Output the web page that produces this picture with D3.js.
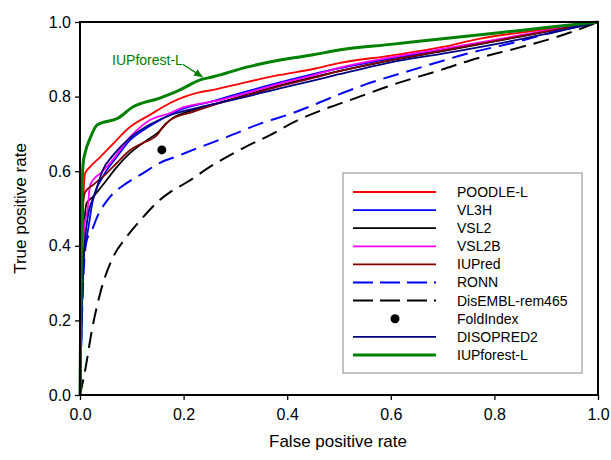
<!DOCTYPE html>
<html>
<head>
<meta charset="utf-8">
<script src="https://cdn.jsdelivr.net/npm/d3@7"></script>
<style>
body { margin: 0; background: #fff; }
svg text { font-family: "Liberation Sans", Arial, sans-serif; }
</style>
</head>
<body>
<div id="chart"></div>
<script>
// ROC curves, values: [fpr, tpr]
const poodle_l = [[0,0],[0.003,0.3],[0.006,0.5],[0.01,0.595],[0.019,0.611],[0.039,0.638],[0.058,0.665],[0.097,0.719],[0.135,0.751],[0.174,0.783],[0.232,0.812],[0.257,0.818],[0.322,0.839],[0.386,0.858],[0.45,0.874],[0.5,0.89],[0.6,0.91],[0.7,0.933],[0.77,0.955],[0.9,0.98],[1,1]];
const vl3h = [[0,0],[0.004,0.25],[0.006,0.335],[0.01,0.407],[0.013,0.424],[0.025,0.523],[0.044,0.585],[0.071,0.638],[0.097,0.684],[0.122,0.71],[0.154,0.737],[0.193,0.764],[0.257,0.788],[0.322,0.814],[0.386,0.838],[0.45,0.86],[0.5,0.876],[0.6,0.902],[0.7,0.925],[0.8,0.95],[0.9,0.975],[1,1]];
const vsl2 = [[0,0],[0.004,0.3],[0.008,0.45],[0.013,0.515],[0.025,0.531],[0.044,0.563],[0.071,0.611],[0.097,0.649],[0.122,0.676],[0.149,0.702],[0.174,0.737],[0.218,0.764],[0.257,0.779],[0.322,0.805],[0.386,0.83],[0.45,0.852],[0.5,0.868],[0.6,0.897],[0.7,0.922],[0.8,0.948],[0.9,0.974],[1,1]];
const vsl2b = [[0,0],[0.004,0.3],[0.008,0.45],[0.015,0.5],[0.019,0.56],[0.025,0.576],[0.04,0.595],[0.058,0.622],[0.097,0.692],[0.135,0.737],[0.174,0.756],[0.193,0.768],[0.232,0.781],[0.257,0.787],[0.322,0.81],[0.386,0.835],[0.45,0.857],[0.5,0.877],[0.6,0.905],[0.7,0.928],[0.8,0.952],[0.9,0.977],[1,1]];
const iupred = [[0,0],[0.003,0.3],[0.005,0.5],[0.01,0.544],[0.025,0.563],[0.044,0.585],[0.071,0.622],[0.097,0.657],[0.122,0.676],[0.149,0.697],[0.16,0.719],[0.174,0.737],[0.218,0.759],[0.257,0.777],[0.322,0.803],[0.386,0.828],[0.45,0.85],[0.5,0.868],[0.6,0.898],[0.7,0.923],[0.8,0.949],[0.9,0.975],[1,1]];
const ronn = [[0,0],[0.006,0.3],[0.013,0.415],[0.023,0.442],[0.033,0.477],[0.058,0.531],[0.09,0.568],[0.122,0.595],[0.154,0.622],[0.193,0.643],[0.218,0.657],[0.284,0.692],[0.347,0.727],[0.411,0.756],[0.45,0.777],[0.5,0.806],[0.55,0.832],[0.65,0.875],[0.753,0.917],[0.844,0.947],[0.932,0.979],[1,1]];
const disembl = [[0,0],[0.01,0.067],[0.023,0.174],[0.039,0.273],[0.064,0.37],[0.09,0.424],[0.122,0.477],[0.154,0.523],[0.174,0.544],[0.207,0.571],[0.257,0.617],[0.315,0.662],[0.367,0.697],[0.421,0.737],[0.483,0.772],[0.52,0.79],[0.6,0.83],[0.7,0.873],[0.753,0.897],[0.844,0.93],[0.932,0.965],[1,1]];
const disopred2 = [[0,0],[0.005,0.3],[0.01,0.42],[0.015,0.477],[0.029,0.54],[0.044,0.603],[0.064,0.643],[0.097,0.69],[0.135,0.725],[0.174,0.75],[0.232,0.772],[0.257,0.78],[0.322,0.8],[0.386,0.822],[0.45,0.843],[0.5,0.86],[0.6,0.892],[0.7,0.915],[0.8,0.94],[0.9,0.968],[1,1]];
const iupforest_l = [[0,0],[0.002,0.3],[0.004,0.55],[0.006,0.62],[0.01,0.65],[0.02,0.69],[0.033,0.724],[0.073,0.742],[0.102,0.772],[0.154,0.796],[0.193,0.818],[0.232,0.845],[0.257,0.853],[0.322,0.879],[0.386,0.898],[0.45,0.912],[0.5,0.925],[0.6,0.94],[0.7,0.955],[0.8,0.97],[0.9,0.985],[1,1]];
const foldindex = [[0.158, 0.657]];

const names = ["POODLE-L", "VL3H", "VSL2", "VSL2B", "IUPred", "RONN", "DisEMBL-rem465", "FoldIndex", "DISOPRED2", "IUPforest-L"];
const tick_values = [0, 0.2, 0.4, 0.6, 0.8, 1.0];

const series = [
	{ name: "POODLE-L", data: poodle_l, color: "#ff0000", width: 1.8 },
	{ name: "VL3H", data: vl3h, color: "#0000ff", width: 1.8 },
	{ name: "VSL2", data: vsl2, color: "#000000", width: 1.8 },
	{ name: "VSL2B", data: vsl2b, color: "#ff00ff", width: 1.8 },
	{ name: "IUPred", data: iupred, color: "#800000", width: 1.8 },
	{ name: "RONN", data: ronn, color: "#0000ff", width: 2, dash: "16,8" },
	{ name: "DisEMBL-rem465", data: disembl, color: "#000000", width: 2, dash: "16,8" },
	{ name: "FoldIndex", data: foldindex, color: "#000000", point: true },
	{ name: "DISOPRED2", data: disopred2, color: "#000080", width: 1.8 },
	{ name: "IUPforest-L", data: iupforest_l, color: "#008000", width: 3 }
];

const margins = { top: 22, right: 13, bottom: 65, left: 80 };
const full_w = 611, full_h = 460;
const width = full_w - margins.left - margins.right;
const height = full_h - margins.top - margins.bottom;

const x_scale = d3.scaleLinear().domain([0, 1]).range([0, width]);
const y_scale = d3.scaleLinear().domain([0, 1]).range([height, 0]);

const svg = d3.select("#chart").append("svg")
	.attr("width", full_w)
	.attr("height", full_h);

const g = svg.append("g")
	.attr("transform", `translate(${margins.left}, ${margins.top})`);

const line = d3.line()
	.x(d => x_scale(d[0]))
	.y(d => y_scale(d[1]))
	.curve(d3.curveMonotoneX);

// curves
series.filter(s => !s.point).forEach(s => {
	g.append("path")
		.datum(s.data)
		.attr("fill", "none")
		.attr("stroke", s.color)
		.attr("stroke-width", s.width)
		.attr("stroke-dasharray", s.dash || null)
		.attr("stroke-linejoin", "round")
		.attr("d", line);
});

g.selectAll(".fold")
	.data(foldindex)
	.enter()
	.append("circle")
	.attr("class", "fold")
	.attr("cx", d => x_scale(d[0]))
	.attr("cy", d => y_scale(d[1]))
	.attr("r", 4.5)
	.attr("fill", "#000");

// axes
const x_axis = d3.axisBottom(x_scale).tickValues(tick_values).tickFormat(d3.format(".1f")).tickSize(5).tickSizeOuter(0);
const y_axis = d3.axisLeft(y_scale).tickValues(tick_values).tickFormat(d3.format(".1f")).tickSize(5).tickSizeOuter(0);

const xg = g.append("g").attr("transform", `translate(0, ${height})`).call(x_axis);
const yg = g.append("g").call(y_axis);
[xg, yg].forEach(a => {
	a.select(".domain").remove();
	a.selectAll(".tick line").attr("stroke", "#000").attr("stroke-width", 1.3);
	a.selectAll(".tick text").attr("font-size", 16).attr("fill", "#000");
});
xg.selectAll(".tick text").attr("dy", "1.05em");
yg.selectAll(".tick text").attr("x", -9);

// frame
g.append("rect")
	.attr("width", width)
	.attr("height", height)
	.attr("fill", "none")
	.attr("stroke", "#000")
	.attr("stroke-width", 2);

svg.append("text")
	.attr("x", margins.left + width / 2 - 1)
	.attr("y", 447)
	.attr("text-anchor", "middle")
	.attr("font-size", 17)
	.text("False positive rate");

svg.append("text")
	.attr("transform", `translate(26, ${margins.top + height / 2}) rotate(-90)`)
	.attr("text-anchor", "middle")
	.attr("font-size", 17)
	.text("True positive rate");

// annotation for IUPforest-L
svg.append("defs").append("marker")
	.attr("id", "arrow")
	.attr("viewBox", "0 0 10 10")
	.attr("refX", 9).attr("refY", 5)
	.attr("markerWidth", 7).attr("markerHeight", 7)
	.attr("orient", "auto")
	.append("path")
	.attr("d", "M0,1 L10,5 L0,9 Z")
	.attr("fill", "#008000");

g.append("text")
	.attr("x", x_scale(0.062))
	.attr("y", y_scale(0.885))
	.attr("font-size", 14)
	.attr("fill", "#008000")
	.text("IUPforest-L");

g.append("line")
	.attr("x1", x_scale(0.199)).attr("y1", y_scale(0.886))
	.attr("x2", x_scale(0.236)).attr("y2", y_scale(0.853))
	.attr("stroke", "#008000")
	.attr("stroke-width", 1.3)
	.attr("marker-end", "url(#arrow)");

// legend
const legend = svg.append("g").attr("class", "legend");
legend.append("rect")
	.attr("x", 343).attr("y", 173)
	.attr("width", 239).attr("height", 200)
	.attr("fill", "#fff")
	.attr("stroke", "#888")
	.attr("stroke-width", 1);

const rows = legend.selectAll(".row")
	.data(series)
	.enter()
	.append("g")
	.attr("class", "row")
	.attr("transform", (d, i) => `translate(0, ${192 + i * 18.1})`);

rows.filter(d => !d.point).append("line")
	.attr("x1", 353).attr("x2", 436)
	.attr("stroke", d => d.color)
	.attr("stroke-width", d => d.width)
	.attr("stroke-dasharray", d => d.dash ? "20,7" : null);

rows.filter(d => d.point).append("circle")
	.attr("cx", 395).attr("r", 4.5).attr("fill", "#000");

rows.append("text")
	.attr("x", 457)
	.attr("dy", "0.35em")
	.attr("font-size", 14)
	.text((d, i) => names[i]);
</script>
</body>
</html>
